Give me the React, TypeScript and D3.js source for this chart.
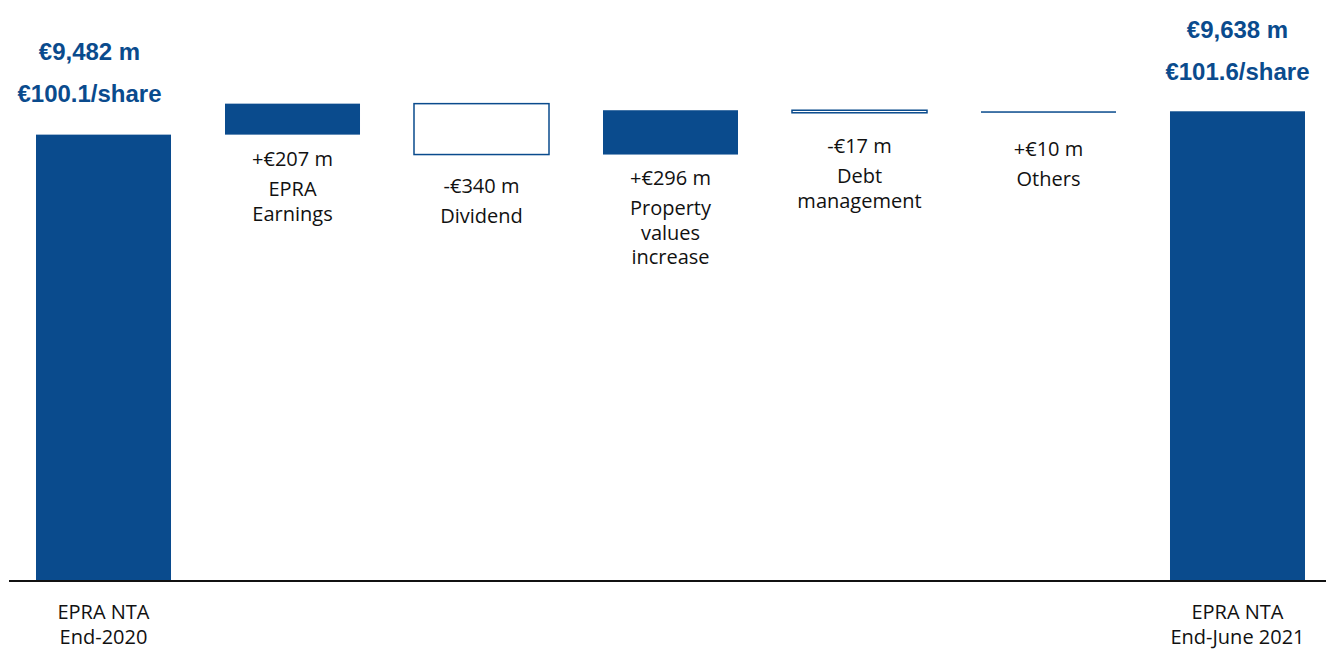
import React from "react"
import * as d3 from "d3"

// categories along the x axis (line breaks with \n)
const categories = [
	"EPRA NTA\nEnd-2020",
	"EPRA\nEarnings",
	"Dividend",
	"Property\nvalues\nincrease",
	"Debt\nmanagement",
	"Others",
	"EPRA NTA\nEnd-June 2021",
]
const startValue = 9482
const endValue = 9638
const changes = [207, -340, 296, -17, 10]
const changeLabels = ["+€207 m", "-€340 m", "+€296 m", "-€17 m", "+€10 m"]
const totalLabels = [
	["€9,482 m", "€100.1/share"],
	["€9,638 m", "€101.6/share"],
]

const W = 1326
const H = 650
const blue = "#0a4b8d"
const bodyFont = "'Open Sans', Calibri, sans-serif"
const boldFont = "'Liberation Sans', Arial, sans-serif"

const App: React.FC = () => {
	const baseY = 581
	const x = d3
		.scaleBand<number>()
		.domain(d3.range(categories.length))
		.range([36, 1305])
		.paddingInner(0.2857)
		.paddingOuter(0)
	const y = d3.scaleLinear().domain([6500, 9700]).range([baseY, 102])

	// running totals for the floating steps
	const steps: { i: number; from: number; to: number; v: number }[] = []
	let run = startValue
	changes.forEach((v, k) => {
		steps.push({ i: k + 1, from: run, to: run + v, v })
		run += v
	})

	// first-line baseline below each step's bottom edge
	const labelGap = [31, 38, 30, 40, 43]
	const bw = x.bandwidth()

	const totals = [
		{ i: 0, v: startValue, labels: totalLabels[0], top: 60, dx: -14 },
		{ i: categories.length - 1, v: endValue, labels: totalLabels[1], top: 38, dx: 0 },
	]

	return (
		<svg
			width={W}
			height={H}
			style={{ position: "absolute", left: 0, top: 0, background: "#fff" }}>
			{totals.map((t) => (
				<g key={"t" + t.i}>
					<rect
						x={x(t.i)}
						y={y(t.v)}
						width={bw}
						height={baseY - y(t.v)}
						fill={blue}
					/>
					{t.labels.map((s, j) => (
						<text
							key={j}
							x={(x(t.i) ?? 0) + bw / 2 + t.dx}
							y={t.top + j * 42}
							textAnchor="middle"
							fontFamily={boldFont}
							fontWeight="bold"
							fontSize={24}
							fill={blue}>
							{s}
						</text>
					))}
					{categories[t.i].split("\n").map((s, j) => (
						<text
							key={"c" + j}
							x={(x(t.i) ?? 0) + bw / 2}
							y={619 + j * 25}
							textAnchor="middle"
							fontFamily={bodyFont}
							fontSize={20}
							fill="#111">
							{s}
						</text>
					))}
				</g>
			))}
			{steps.map((s, k) => {
				const top = y(Math.max(s.from, s.to))
				const bottom = y(Math.min(s.from, s.to))
				const neg = s.v < 0
				const cx = (x(s.i) ?? 0) + bw / 2
				const first = bottom + labelGap[k]
				return (
					<g key={"s" + s.i}>
						<rect
							x={x(s.i)}
							y={top}
							width={bw}
							height={Math.max(bottom - top, 1.5)}
							fill={neg ? "#fff" : blue}
							stroke={neg ? blue : "none"}
							strokeWidth={neg ? 1.5 : 0}
						/>
						<text
							x={cx}
							y={first}
							textAnchor="middle"
							fontFamily={bodyFont}
							fontSize={20}
							fill="#111">
							{changeLabels[k]}
						</text>
						{categories[s.i].split("\n").map((line, j) => (
							<text
								key={j}
								x={cx}
								y={first + 30.5 + j * 24.5}
								textAnchor="middle"
								fontFamily={bodyFont}
								fontSize={20}
								fill="#111">
								{line}
							</text>
						))}
					</g>
				)
			})}
			<line x1={9} x2={W} y1={baseY} y2={baseY} stroke="#111" strokeWidth={2} />
		</svg>
	)
}

export default App
